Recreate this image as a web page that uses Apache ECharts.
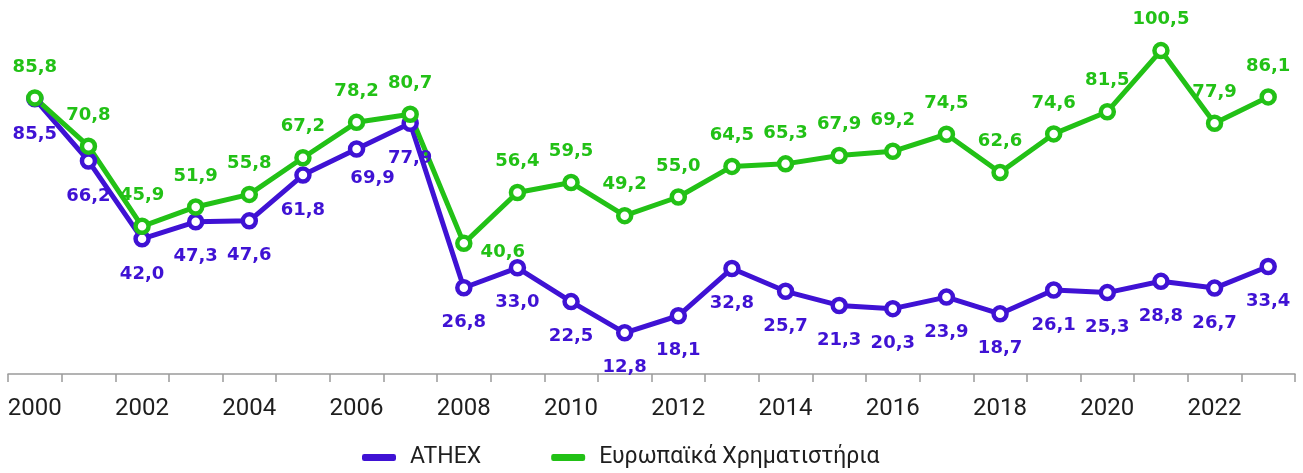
<!DOCTYPE html>
<html>
<head>
<meta charset="utf-8">
<script src="https://cdn.jsdelivr.net/npm/echarts@6/dist/echarts.min.js"></script>
<style>
  html, body { margin: 0; padding: 0; background: #fff; }
  #chart { width: 1303px; height: 473px; }
</style>
</head>
<body>
<div id="chart"></div>
<script>
// Years on the category axis
const years = ['2000','2001','2002','2003','2004','2005','2006','2007','2008','2009','2010','2011',
               '2012','2013','2014','2015','2016','2017','2018','2019','2020','2021','2022','2023'];

// ATHEX values
const athex = [85.5, 66.2, 42.0, 47.3, 47.6, 61.8, 69.9, 77.9, 26.8, 33.0, 22.5, 12.8,
               18.1, 32.8, 25.7, 21.3, 20.3, 23.9, 18.7, 26.1, 25.3, 28.8, 26.7, 33.4];

// European exchanges values
const europe = [85.8, 70.8, 45.9, 51.9, 55.8, 67.2, 78.2, 80.7, 40.6, 56.4, 59.5, 49.2,
                55.0, 64.5, 65.3, 67.9, 69.2, 74.5, 62.6, 74.6, 81.5, 100.5, 77.9, 86.1];

const seriesNames = ['ATHEX', 'Ευρωπαϊκά Χρηματιστήρια'];

const PURPLE = '#3f12d4';
const GREEN = '#22c116';

// Label offsets relative to each point (x, y); a few points get their own
const purpleOffset = [0, 35];
const greenOffset = [0, -31];
const purpleOverrides = { 6: [16, 29] };
const greenOverrides = { 8: [39, 9] };

const fmt = v => v.toFixed(1).replace('.', ',');

function buildData(values, defOffset, overrides) {
  return values.map((v, i) => {
    const off = overrides[i] || defOffset;
    return { value: v, label: { offset: off } };
  });
}

function lineSeries(name, values, color, defOffset, overrides) {
  return {
    name: name,
    type: 'line',
    data: buildData(values, defOffset, overrides),
    symbol: 'circle',
    symbolSize: 13,
    showAllSymbol: true,
    lineStyle: { color: color, width: 5 },
    itemStyle: { color: '#ffffff', borderColor: color, borderWidth: 4.5 },
    label: {
      show: true,
      position: 'inside',
      formatter: p => fmt(p.value),
      color: color,
      fontFamily: 'DejaVu Sans',
      fontWeight: 'bold',
      fontSize: 18
    },
    emphasis: { disabled: true },
    animation: false
  };
}

const chart = echarts.init(document.getElementById('chart'), null, { renderer: 'canvas' });

chart.setOption({
  backgroundColor: '#ffffff',
  animation: false,
  grid: { left: 8, right: 8, top: 20, bottom: 99, containLabel: false },
  legend: {
    data: seriesNames.map((n, i) => ({ name: n, itemStyle: { color: i === 0 ? PURPLE : GREEN } })),
    left: 357,
    top: 441,
    icon: 'roundRect',
    itemWidth: 32,
    itemHeight: 5,
    itemGap: 70,
    textStyle: {
      fontFamily: 'Roboto',
      fontSize: 23,
      color: '#1e1e1e',
      padding: [0, 0, 0, 10]
    }
  },
  xAxis: {
    type: 'category',
    data: years,
    boundaryGap: true,
    axisLine: { show: true, lineStyle: { color: '#9a9a9a', width: 1.5 } },
    axisTick: { show: true, interval: 0, length: 8, lineStyle: { color: '#9a9a9a', width: 1.5 } },
    axisLabel: {
      interval: 1,
      margin: 23,
      fontFamily: 'Roboto',
      fontSize: 24,
      color: '#1e1e1e'
    },
    splitLine: { show: false }
  },
  yAxis: {
    type: 'value',
    min: 0,
    max: 110,
    show: false,
    splitLine: { show: false }
  },
  series: [
    lineSeries(seriesNames[0], athex, PURPLE, purpleOffset, purpleOverrides),
    lineSeries(seriesNames[1], europe, GREEN, greenOffset, greenOverrides)
  ]
});
</script>
</body>
</html>
